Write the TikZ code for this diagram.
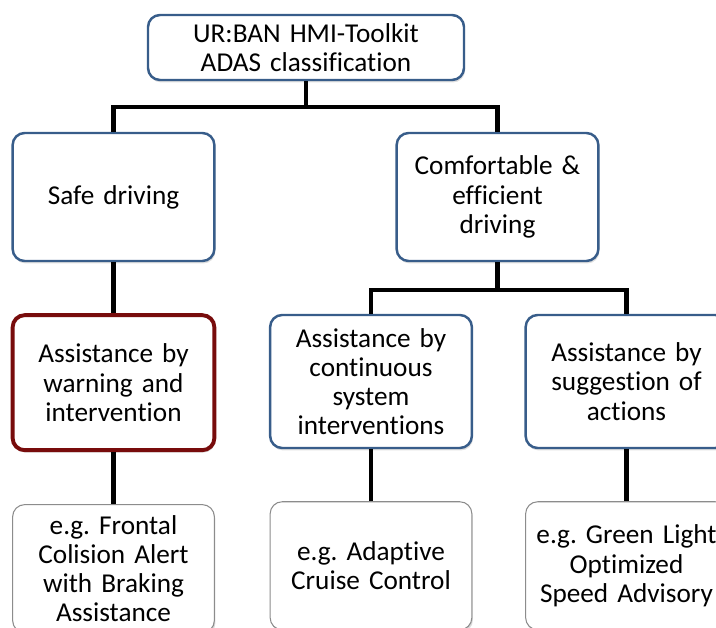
\documentclass[tikz,border=0pt]{standalone}
\usepackage{fontspec}
\setmainfont{Carlito}[Ligatures=NoCommon]
\usetikzlibrary{positioning, shadows}
\definecolor{boxblue}{RGB}{56,93,138}
\definecolor{boxred}{RGB}{120,12,12}
\definecolor{boxgray}{RGB}{140,140,140}
\frenchspacing

\begin{document}
\begin{tikzpicture}[
        block/.style={
          align=center, draw=boxblue, fill=white, line width=1.4pt, rounded corners=0.24cm,
          minimum width=3.98cm, minimum height=2.56cm, text width=3.8cm,
          font=\fontsize{15.5}{16.6}\selectfont,
          drop shadow={opacity=0.25, shadow xshift=0.6pt, shadow yshift=-1.4pt}
        },
        warnblock/.style={
          block, draw=boxred, line width=2.2pt, minimum height=2.7cm
        },
        example/.style={
          block, draw=boxgray, line width=0.6pt, drop shadow={opacity=0.1, shadow xshift=0.4pt, shadow yshift=-0.8pt}
        },
        conn/.style={
          line width=2.3pt, -
        },
      ]
        \clip (0,0) rectangle (14.32,-12.56);
        \useasboundingbox (0,0) rectangle (14.32,-12.56);

        % top
        \node [block, minimum width=6.32cm, minimum height=1.3cm, text width=6cm] (toolkit) at (6.12,-0.95) {UR:BAN HMI-Toolkit\\ADAS classification};

        % main branches
        \node [block] (safe) at (2.27,-3.94) {Safe driving};
        \node [block] (comfort) at (9.95,-3.94) {Comfortable \&\\efficient\\driving};

        % assistance types
        \node [warnblock, below=1.02cm of safe] (warning) {Assistance by\\warning and\\intervention};
        \node [block, minimum height=2.66cm] (continuous) at (7.42,-7.63) {Assistance by\\continuous\\system\\interventions};
        \node [block, minimum height=2.66cm] (suggestion) at (12.53,-7.63) {Assistance by\\suggestion of\\actions};

        % examples
        \node [example, below=1.04cm of warning] (frontal) {e.g. Frontal\\Colision Alert\\with Braking\\Assistance};
        \node [example, below=1.04cm of continuous] (acc) {e.g. Adaptive\\Cruise Control};
        \node [example, below=1.04cm of suggestion] (glosa) {e.g. Green Light\\Optimized\\Speed Advisory};

        % tree lines
        \coordinate (split_top) at (toolkit.south |- 0,-2.14);
        \coordinate (split_comfort) at (comfort.south |- 0,-5.8);
        \draw [conn] (toolkit.south) -- (split_top) -| (safe.north);
        \draw [conn] (split_top) -| (comfort.north);
        \draw [conn] (comfort.south) -- (split_comfort) -| (continuous.north);
        \draw [conn] (split_comfort) -| (suggestion.north);
        \draw [conn] (safe.south) -- (warning.north);
        \draw [conn] (warning.south) -- (frontal.north);
        \draw [conn] (continuous.south) -- (acc.north);
        \draw [conn] (suggestion.south) -- (glosa.north);

      \end{tikzpicture}
\end{document}
